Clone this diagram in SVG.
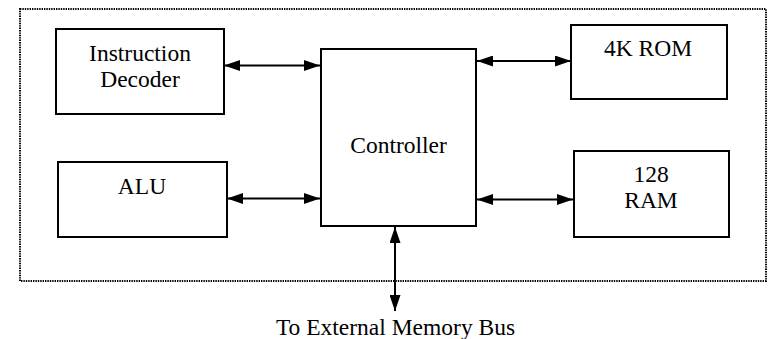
<svg xmlns="http://www.w3.org/2000/svg" width="769" height="339" viewBox="0 0 769 339">
<style>
.box{fill:#fff;stroke:#000;stroke-width:2}
.lbl{font-family:"Liberation Serif","Times New Roman",serif;font-size:23.5px;fill:#000;text-anchor:middle}
.conn{stroke:#000;stroke-width:2;fill:none;marker-start:url(#ah);marker-end:url(#ah)}
</style>
<defs>
<marker id="ah" viewBox="0 0 16 11" refX="16" refY="5.5" markerWidth="16" markerHeight="11" markerUnits="userSpaceOnUse" orient="auto-start-reverse">
<path d="M0,0 L16,5.5 L0,11 z" fill="#000"/>
</marker>
</defs>
<rect x="20" y="9" width="746" height="272" fill="none" stroke="#000" stroke-width="2" stroke-dasharray="1.4 1"/>
<g id="decoder">
<rect class="box" x="56" y="29" width="168" height="85"/>
<text class="lbl" x="140" y="61">Instruction</text>
<text class="lbl" x="140" y="87">Decoder</text>
</g>
<g id="controller">
<rect class="box" x="321" y="49" width="155" height="177"/>
<text class="lbl" x="398.5" y="153">Controller</text>
</g>
<g id="rom">
<rect class="box" x="571" y="25" width="156" height="74"/>
<text class="lbl" x="648" y="56">4K ROM</text>
</g>
<g id="alu">
<rect class="box" x="58" y="162" width="169" height="75"/>
<text class="lbl" x="142" y="194">ALU</text>
</g>
<g id="ram">
<rect class="box" x="574" y="151" width="155" height="86"/>
<text class="lbl" x="651" y="182">128</text>
<text class="lbl" x="651" y="208">RAM</text>
</g>
<g id="connectors">
<line class="conn" x1="224" y1="65.5" x2="320" y2="65.5"/>
<line class="conn" x1="227" y1="198.5" x2="320" y2="198.5"/>
<line class="conn" x1="477" y1="61" x2="571" y2="61"/>
<line class="conn" x1="477" y1="199.5" x2="573" y2="199.5"/>
<line class="conn" x1="395" y1="227" x2="395" y2="311"/>
</g>
<text class="lbl" x="395.5" y="335">To External Memory Bus</text>
</svg>
